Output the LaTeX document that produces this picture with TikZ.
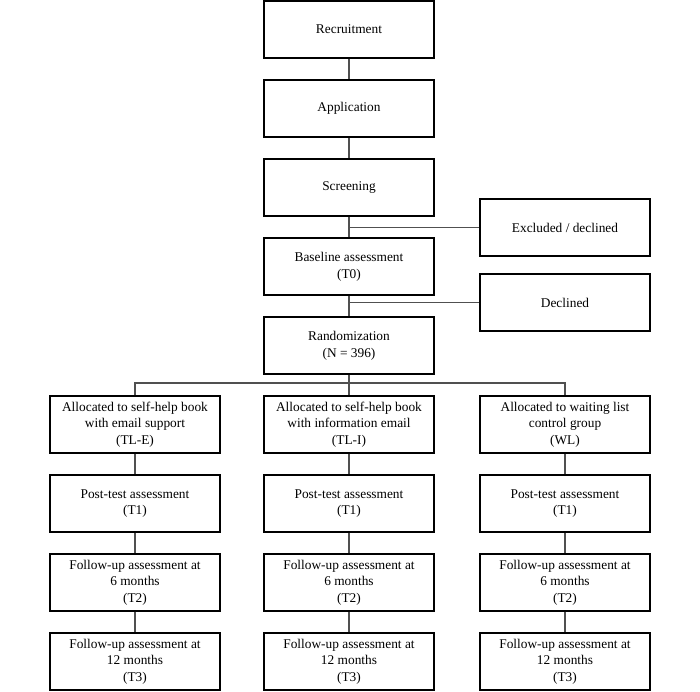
\documentclass[tikz,border=0pt]{standalone}
\usepackage{fontspec}
\setmainfont{Liberation Serif}
\usepackage{tikz}
\usetikzlibrary{positioning, calc}
\definecolor{linegray}{RGB}{80, 80, 80}

\begin{document}
\begin{tikzpicture}[
    x=0.025cm, y=-0.025cm,
    stage/.style={draw, line width=0.75pt, fill=white, minimum width=4.25cm, minimum height=1.425cm,
        align=center, inner sep=1pt, font=\fontsize{9.5}{11.8}\selectfont},
    link/.style={draw, line width=0.8pt, linegray}
]
    \useasboundingbox (0,0) rectangle (700,692);

    % Main stages
    \node[stage] (recruit) at (349, 29.5) {Recruitment};
    \node[stage] (apply) at (349, 108.5) {Application};
    \node[stage] (screen) at (349, 187.5) {Screening};
    \node[stage] (baseline) at (349, 266.5) {Baseline assessment\\(T0)};
    \node[stage] (random) at (349, 345.5) {Randomization\\(N = 396)};

    % Drop-outs
    \node[stage] (excluded) at (565, 227.5) {Excluded / declined};
    \node[stage] (declined) at (565, 302.5) {Declined};

    % Groups
    \node[stage] (allocE) at (135, 424.5) {Allocated to self-help book\\with email support\\(TL-E)};
    \node[stage] (allocI) at (349, 424.5) {Allocated to self-help book\\with information email\\(TL-I)};
    \node[stage] (allocWL) at (565, 424.5) {Allocated to waiting list\\control group\\(WL)};

    % Assessments
    \foreach \grp/\xx in {E/135, I/349, WL/565} {
        \node[stage] (post\grp) at (\xx, 503.5) {Post-test assessment\\(T1)};
        \node[stage] (fupA\grp) at (\xx, 582.5) {Follow-up assessment at\\6 months\\(T2)};
        \node[stage] (fupB\grp) at (\xx, 661.5) {Follow-up assessment at\\12 months\\(T3)};
    }

    % Flow
    \draw[link] (recruit) -- (apply);
    \draw[link] (apply) -- (screen);
    \draw[link] (screen) -- (baseline);
    \draw[link] (baseline) -- (random);
    \draw[link] (excluded.west) -- (excluded.west -| screen.south);
    \draw[link] (declined.west) -- (declined.west -| baseline.south);

    \coordinate (split) at (349, 383);
    \draw[link] (random) -- (split);
    \draw[link] (allocE) |- (split) -| (allocWL);
    \draw[link] (split) -- (allocI);

    \foreach \grp in {E, I, WL} {
        \draw[link] (alloc\grp) -- (post\grp);
        \draw[link] (post\grp) -- (fupA\grp);
        \draw[link] (fupA\grp) -- (fupB\grp);
    }
\end{tikzpicture}
\end{document}
